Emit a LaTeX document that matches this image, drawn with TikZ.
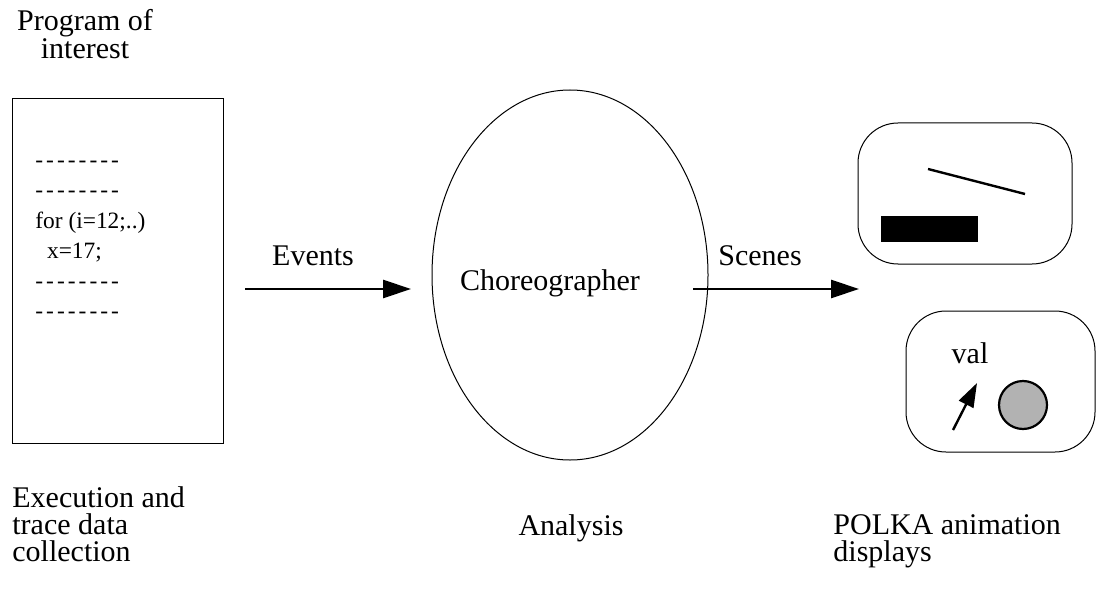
\documentclass[tikz,border=0pt]{standalone}
\usepackage{fontspec}
\setmainfont{Liberation Serif}
\usetikzlibrary{arrows.meta, positioning, calc}

\tikzset{
  label/.style={inner sep=0pt, font=\fontsize{15}{14}\selectfont},
  code/.style={inner sep=0pt, anchor=base west, font=\fontsize{11.7}{15}\selectfont},
  flow/.style={line width=1.4pt, -{Triangle[length=14pt,width=9pt]}},
  screen/.style={draw, line width=0.5pt, rounded corners=20pt},
}
\newcommand{\dashline}{-\kern.13em-\kern.13em-\kern.13em-\kern.13em-\kern.13em-\kern.13em-\kern.13em-}

\begin{document}
\begin{tikzpicture}[x=0.5pt, y=-0.5pt]
        \useasboundingbox (0,0) rectangle (1101,588);
        % program of interest
        \node[label, align=center, anchor=base] (prog) at (85,59) {Program of\\interest};
        \draw[line width=0.5pt] (12,99) rectangle (223,443);
        \node[code] (c1) at (35,168) {\dashline};
        \node[code] (c2) at (35,198) {\dashline};
        \node[code] (c3) at (35,228) {for (i=12;..)};
        \node[code] (c4) at (35,258) {\ \ x=17;};
        \node[code] (c5) at (35,288) {\dashline};
        \node[code] (c6) at (35,318) {\dashline};
        \node[label, align=left, anchor=base west, font=\fontsize{15}{13.5}\selectfont] (exec) at (12,561) {Execution and\\trace data\\collection};
        % events
        \coordinate (ev1) at (245,289);
        \coordinate (ev2) at (411,289);
        \draw[flow] (ev1) -- (ev2);
        \node[label, anchor=base] (events) at (313,265) {Events};
        % choreographer
        \draw[line width=0.5pt] (570,275) ellipse (69pt and 92.5pt);
        \node[label, anchor=base] (chor) at (550,290) {Choreographer};
        \node[label, anchor=base] (anal) at (571,535) {Analysis};
        % scenes
        \coordinate (sc1) at (693,289);
        \coordinate (sc2) at (859,289);
        \draw[flow] (sc1) -- (sc2);
        \node[label, anchor=base] (scenes) at (760,265) {Scenes};
        % displays
        \draw[screen] (858,123) rectangle (1072,264);
        \draw[line width=1.2pt] (928,169) -- (1025,194);
        \fill (881,216) rectangle (978,242);
        \draw[screen] (906,311) rectangle (1095,452);
        \node[label, anchor=base] (val) at (970,363) {val};
        \coordinate (p1) at (953,430);
        \coordinate (p2) at (977,383);
        \draw[line width=1.2pt, -{Triangle[length=12pt,width=8pt]}] (p1) -- (p2);
        \draw[line width=1.1pt, fill=black!30] (1023,405) circle (12pt);
        \node[label, align=left, anchor=base west, font=\fontsize{15}{13.5}\selectfont] (polka) at (833,561) {POLKA animation\\displays};
    \end{tikzpicture}
\end{document}
